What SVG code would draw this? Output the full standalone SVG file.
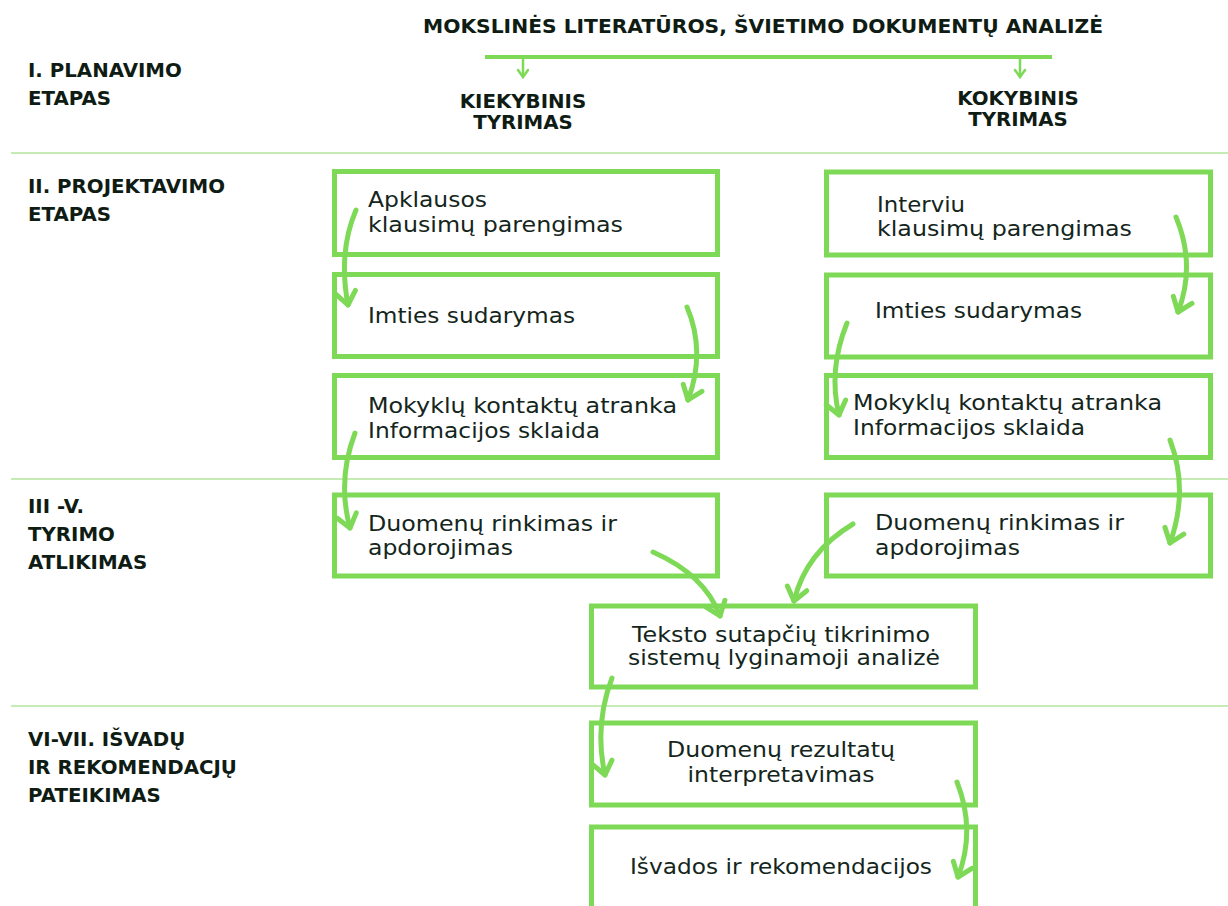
<svg xmlns="http://www.w3.org/2000/svg" width="1228" height="906" viewBox="0 0 1228 906">
<style>
.bg{fill:#ffffff}
.sep{stroke:#c6ecb6;stroke-width:2;fill:none}
.box{fill:none;stroke:#7ed957;stroke-width:5}
.hd{font-family:"DejaVu Sans","Liberation Sans",sans-serif;font-weight:bold;font-size:19.8px;fill:#0f1c14}
.tx{font-family:"DejaVu Sans","Liberation Sans",sans-serif;font-size:20.5px;fill:#14261c}
.c{text-anchor:middle}
.arr{fill:none;stroke:#7ed957;stroke-width:5;stroke-linecap:round;marker-end:url(#ah)}
.thin{fill:none;stroke:#7ed957;stroke-width:2.5;marker-end:url(#sm)}
</style>
<defs>
<marker id="ah" markerUnits="userSpaceOnUse" orient="auto" markerWidth="30" markerHeight="30" refX="0" refY="0" overflow="visible">
<path d="M-13,-10 L0,0 L-13,10" fill="none" stroke="#7ed957" stroke-width="5" stroke-linecap="round" stroke-linejoin="round"/>
</marker>
<marker id="sm" markerUnits="userSpaceOnUse" orient="auto" markerWidth="20" markerHeight="20" refX="0" refY="0" overflow="visible">
<path d="M-7,-5 L0,0 L-7,5" fill="none" stroke="#7ed957" stroke-width="2.5" stroke-linecap="round"/>
</marker>
</defs>
<rect class="bg" x="0" y="0" width="1228" height="906"/>

<g id="separators">
<line class="sep" x1="11" y1="153" x2="1228" y2="153"/>
<line class="sep" x1="11" y1="479" x2="1228" y2="479"/>
<line class="sep" x1="11" y1="706" x2="1228" y2="706"/>
</g>

<g id="stage-labels">
<text class="hd" x="28" y="77">I. PLANAVIMO</text>
<text class="hd" x="28" y="105">ETAPAS</text>
<text class="hd" x="28" y="193">II. PROJEKTAVIMO</text>
<text class="hd" x="28" y="221">ETAPAS</text>
<text class="hd" x="28" y="513">III -V.</text>
<text class="hd" x="28" y="541">TYRIMO</text>
<text class="hd" x="28" y="569">ATLIKIMAS</text>
<text class="hd" x="28" y="746">VI-VII. IŠVADŲ</text>
<text class="hd" x="28" y="774">IR REKOMENDACJŲ</text>
<text class="hd" x="28" y="802">PATEIKIMAS</text>
</g>

<g id="title">
<text class="hd c" x="763" y="33" textLength="680" lengthAdjust="spacingAndGlyphs">MOKSLINĖS LITERATŪROS, ŠVIETIMO DOKUMENTŲ ANALIZĖ</text>
</g>
<g id="kiekybinis">
<text class="hd c" x="523" y="108">KIEKYBINIS</text>
<text class="hd c" x="523" y="129">TYRIMAS</text>
</g>
<g id="kokybinis">
<text class="hd c" x="1018" y="105">KOKYBINIS</text>
<text class="hd c" x="1018" y="126">TYRIMAS</text>
</g>

<g id="L1"><rect class="box" x="334.5" y="171.5" width="383" height="83"/>
<text class="tx" x="368" y="207" textLength="119" lengthAdjust="spacingAndGlyphs">Apklausos</text>
<text class="tx" x="368" y="232" textLength="255" lengthAdjust="spacingAndGlyphs">klausimų parengimas</text></g>
<g id="L2"><rect class="box" x="334.5" y="274.5" width="383" height="82"/>
<text class="tx" x="368" y="323" textLength="207" lengthAdjust="spacingAndGlyphs">Imties sudarymas</text></g>
<g id="L3"><rect class="box" x="334.5" y="375.5" width="383" height="82"/>
<text class="tx" x="368" y="413" textLength="309" lengthAdjust="spacingAndGlyphs">Mokyklų kontaktų atranka</text>
<text class="tx" x="368" y="438" textLength="232" lengthAdjust="spacingAndGlyphs">Informacijos sklaida</text></g>
<g id="L4"><rect class="box" x="334.5" y="495" width="383" height="81"/>
<text class="tx" x="368" y="531" textLength="249" lengthAdjust="spacingAndGlyphs">Duomenų rinkimas ir</text>
<text class="tx" x="368" y="555" textLength="145" lengthAdjust="spacingAndGlyphs">apdorojimas</text></g>

<g id="R1"><rect class="box" x="826.5" y="172" width="384" height="83"/>
<text class="tx" x="877" y="212" textLength="88" lengthAdjust="spacingAndGlyphs">Interviu</text>
<text class="tx" x="877" y="236" textLength="255" lengthAdjust="spacingAndGlyphs">klausimų parengimas</text></g>
<g id="R2"><rect class="box" x="826.5" y="275" width="384" height="82"/>
<text class="tx" x="875" y="318" textLength="207" lengthAdjust="spacingAndGlyphs">Imties sudarymas</text></g>
<g id="R3"><rect class="box" x="826.5" y="375.5" width="384" height="82"/>
<text class="tx" x="853" y="410" textLength="309" lengthAdjust="spacingAndGlyphs">Mokyklų kontaktų atranka</text>
<text class="tx" x="853" y="435" textLength="232" lengthAdjust="spacingAndGlyphs">Informacijos sklaida</text></g>
<g id="R4"><rect class="box" x="826.5" y="495" width="384" height="81"/>
<text class="tx" x="875" y="530" textLength="249" lengthAdjust="spacingAndGlyphs">Duomenų rinkimas ir</text>
<text class="tx" x="875" y="555" textLength="145" lengthAdjust="spacingAndGlyphs">apdorojimas</text></g>

<g id="C1"><rect class="box" x="591.5" y="606" width="384" height="81"/>
<text class="tx c" x="781" y="642" textLength="298" lengthAdjust="spacingAndGlyphs">Teksto sutapčių tikrinimo</text>
<text class="tx c" x="784" y="665" textLength="312" lengthAdjust="spacingAndGlyphs">sistemų lyginamoji analizė</text></g>
<g id="C2"><rect class="box" x="591.5" y="723" width="384" height="82"/>
<text class="tx c" x="781" y="757" textLength="228" lengthAdjust="spacingAndGlyphs">Duomenų rezultatų</text>
<text class="tx c" x="781" y="782" textLength="187" lengthAdjust="spacingAndGlyphs">interpretavimas</text></g>
<g id="C3"><path class="box" d="M591.5,920 V827 H975.5 V920"/>
<text class="tx c" x="781" y="874" textLength="302" lengthAdjust="spacingAndGlyphs">Išvados ir rekomendacijos</text></g>

<g id="connectors">
<line x1="485" y1="57" x2="1052" y2="57" stroke="#7ed957" stroke-width="4"/>
<line class="thin" x1="523" y1="58" x2="523" y2="77"/>
<line class="thin" x1="1020" y1="58" x2="1020" y2="77"/>
<path class="arr" d="M356,210 Q338,252 348,305"/>
<path class="arr" d="M687,307 Q706,352 688,400"/>
<path class="arr" d="M355,433 Q337,480 350,528"/>
<path class="arr" d="M653,552 Q705,575 720,616"/>
<path class="arr" d="M853,524 Q806,552 794,601"/>
<path class="arr" d="M1176,217 Q1196,265 1178,312"/>
<path class="arr" d="M847,323 Q828,370 839,415"/>
<path class="arr" d="M1170,440 Q1189,490 1170,543"/>
<path class="arr" d="M612,678 Q594,725 605,775"/>
<path class="arr" d="M957,782 Q976,830 958,877"/>
</g>
</svg>
